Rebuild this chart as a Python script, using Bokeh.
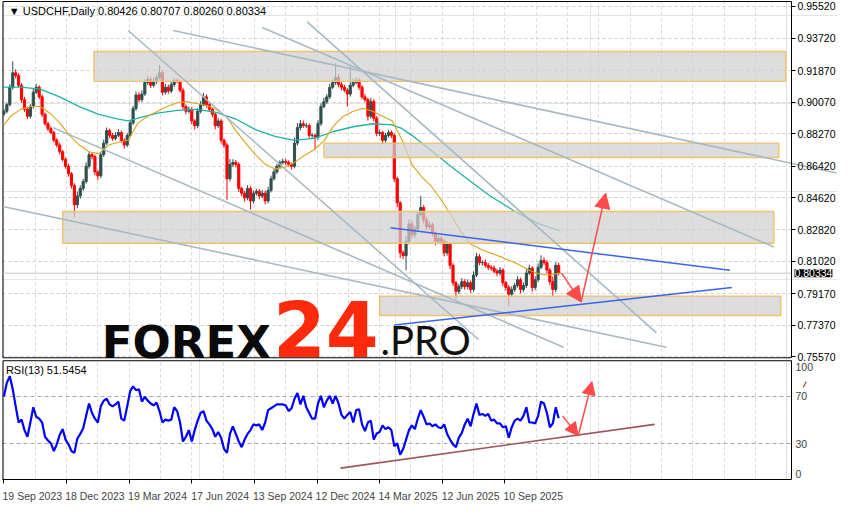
from bokeh.plotting import figure
from bokeh.models import (Range1d, FixedTicker, PrintfTickFormatter, LinearAxis, Grid,
                          Label, Arrow, NormalHead)
from bokeh.embed import file_html
from bokeh.resources import INLINE

# ---------------- data ----------------
symbol_header = "\u25bc USDCHF,Daily  0.80426 0.80707 0.80260 0.80334"
rsi_header = "RSI(13) 51.5454"
last_price = 0.80334
last_price_text = "0.80334"

first_open = 0.8940
closes = [
    0.8955, 0.8993, 0.9092, 0.9174, 0.9158, 0.9103, 0.9021, 0.8966, 0.8927, 0.8982,
    0.9064, 0.9092, 0.9037, 0.8938, 0.8884, 0.8856, 0.8834, 0.8790, 0.8763, 0.8725,
    0.8681, 0.8642, 0.8599, 0.8533, 0.8423, 0.8473, 0.8516, 0.8555, 0.8642, 0.8708,
    0.8697, 0.8610, 0.8588, 0.8708, 0.8774, 0.8845, 0.8818, 0.8801, 0.8818, 0.8834,
    0.8790, 0.8763, 0.8818, 0.8889, 0.8971, 0.9048, 0.9021, 0.9053, 0.9119, 0.9136,
    0.9103, 0.9125, 0.9147, 0.9174, 0.9064, 0.9092, 0.9070, 0.9108, 0.9130, 0.9125,
    0.9075, 0.8982, 0.8955, 0.8966, 0.8900, 0.8873, 0.8955, 0.8993, 0.9037, 0.8993,
    0.8966, 0.8938, 0.8873, 0.8900, 0.8790, 0.8763, 0.8571, 0.8653, 0.8664, 0.8653,
    0.8516, 0.8489, 0.8462, 0.8516, 0.8445, 0.8489, 0.8500, 0.8473, 0.8489, 0.8445,
    0.8505, 0.8571, 0.8610, 0.8642, 0.8664, 0.8670, 0.8664, 0.8653, 0.8642, 0.8774,
    0.8862, 0.8884, 0.8873, 0.8873, 0.8818, 0.8818, 0.8807, 0.8884, 0.8982, 0.9010,
    0.9037, 0.9092, 0.9119, 0.9147, 0.9108, 0.9092, 0.9075, 0.9053, 0.9103, 0.9119,
    0.9130, 0.9092, 0.9037, 0.9021, 0.8927, 0.9010, 0.8916, 0.8829, 0.8834, 0.8790,
    0.8818, 0.8834, 0.8818, 0.8571, 0.8434, 0.8149, 0.8133, 0.8215, 0.8314, 0.8253,
    0.8286, 0.8368, 0.8407, 0.8336, 0.8297, 0.8308, 0.8259, 0.8215, 0.8231, 0.8215,
    0.8149, 0.8199, 0.8078, 0.7979, 0.7930, 0.7957, 0.7985, 0.7957, 0.7979, 0.7941,
    0.8023, 0.8127, 0.8094, 0.8094, 0.8078, 0.8067, 0.8062, 0.8045, 0.8034, 0.8051,
    0.7979, 0.7952, 0.7914, 0.7941, 0.7963, 0.7996, 0.7941, 0.7963, 0.8034, 0.8062,
    0.7952, 0.7996, 0.8067, 0.8105, 0.8094, 0.8051, 0.7985, 0.7941, 0.8078, 0.8033,
]
# upper / lower shadow lengths in pips
wick_up = [
    15, 12, 18, 66, 20, 14, 12, 16, 10, 14,
    18, 20, 12, 14, 10, 12, 15, 10, 12, 14,
    10, 12, 14, 10, 12, 25, 18, 15, 22, 18,
    14, 12, 10, 16, 20, 18, 12, 14, 18, 20,
    12, 10, 14, 18, 15, 20, 16, 22, 18, 20,
    14, 22, 18, 44, 16, 20, 14, 18, 16, 12,
    10, 14, 12, 16, 14, 10, 18, 20, 22, 14,
    12, 14, 10, 16, 12, 10, 14, 30, 18, 14,
    12, 10, 14, 18, 12, 16, 14, 12, 18, 14,
    20, 18, 16, 14, 12, 16, 14, 12, 10, 30,
    25, 22, 18, 16, 12, 14, 10, 20, 18, 22,
    16, 20, 18, 82, 20, 16, 14, 12, 115, 22,
    18, 14, 12, 16, 10, 22, 14, 12, 16, 10,
    14, 16, 12, 10, 12, 10, 14, 30, 25, 18,
    16, 20, 66, 14, 18, 20, 14, 12, 16, 14,
    12, 18, 10, 12, 10, 16, 20, 14, 18, 12,
    20, 22, 16, 14, 18, 14, 12, 16, 14, 18,
    12, 10, 14, 18, 16, 20, 12, 18, 25, 20,
    12, 20, 22, 30, 18, 14, 12, 30, 18, 15,
]
wick_dn = [
    14, 12, 10, 14, 16, 12, 18, 14, 16, 12,
    12, 10, 14, 16, 12, 14, 10, 12, 14, 16,
    12, 14, 16, 18, 71, 20, 16, 14, 12, 14,
    16, 20, 25, 14, 12, 10, 16, 14, 12, 10,
    14, 20, 12, 10, 12, 14, 16, 12, 10, 14,
    16, 12, 14, 10, 18, 14, 16, 12, 14, 10,
    14, 18, 16, 12, 20, 22, 14, 12, 10, 16,
    14, 16, 20, 12, 18, 16, 120, 14, 16, 18,
    20, 18, 22, 14, 49, 16, 14, 18, 12, 20,
    14, 12, 10, 12, 14, 12, 16, 14, 18, 12,
    14, 16, 12, 14, 18, 20, 71, 14, 12, 10,
    14, 12, 10, 14, 16, 18, 12, 71, 14, 12,
    10, 16, 14, 12, 25, 14, 18, 16, 14, 20,
    14, 12, 16, 20, 25, 30, 20, 83, 18, 22,
    16, 14, 12, 20, 18, 14, 16, 22, 14, 18,
    20, 16, 22, 18, 44, 16, 14, 18, 16, 20,
    14, 12, 16, 18, 14, 16, 14, 12, 18, 14,
    20, 18, 72, 16, 14, 12, 22, 16, 14, 12,
    24, 16, 14, 12, 14, 18, 20, 38, 16, 12,
]
rsi = [
    70, 81.6, 87, 76, 61.6, 48, 50.4, 41.6, 36, 48,
    60.8, 52.8, 51.2, 48, 36, 32.8, 30.4, 24, 29.6, 37.6,
    42.4, 33.6, 29.6, 24, 22.4, 34.4, 38.4, 43.2, 53.6, 64,
    56, 51.2, 48, 61.6, 66.4, 68, 63.2, 61.6, 63.2, 65.6,
    51.2, 49.6, 61.6, 74.4, 78.4, 75.2, 76, 65.6, 69.6, 66.4,
    64, 62.4, 64.8, 57.6, 48, 50.4, 49.6, 50.4, 60.8, 57.6,
    48, 32, 36, 41.6, 32, 41.6, 49.6, 56, 57.6, 49.6,
    46.4, 42.4, 36, 40, 35.2, 25.6, 22.4, 38.4, 44.8, 38.4,
    32, 27.2, 33.6, 38.4, 41.6, 46.4, 45.6, 46.4, 41.6, 48,
    58.4, 60, 61.6, 63.2, 63.2, 63.2, 62.4, 57.6, 60, 68,
    72.8, 63.2, 70.4, 60.8, 56, 51.2, 51.2, 64, 70.4, 60.8,
    66.4, 70.4, 64, 70.4, 64, 54.4, 51.2, 54.4, 56.8, 48,
    58.4, 59.2, 46.4, 40.8, 48, 49.6, 33.6, 38.8, 40, 45.6,
    42.4, 44, 41.6, 28, 30.4, 20.8, 25.6, 33.6, 41.6, 45.6,
    42.4, 51.2, 58.4, 52.8, 46.4, 47.2, 44.8, 46.4, 44, 43.2,
    46.4, 38.4, 33.6, 29.6, 27.2, 35.2, 39.2, 46.4, 51.2, 44.8,
    55.2, 64, 54.4, 55.2, 53.6, 55.2, 49.6, 50.4, 47.2, 47.2,
    44, 44.8, 35.2, 44, 49.6, 51.2, 49.6, 53.6, 60.8, 48,
    48, 47.2, 53.6, 65.6, 64, 56, 44, 47.2, 60.8, 51.5,
]

ma_fast_idx = [0, 7, 17, 27, 37, 47, 57, 67, 77, 87, 97, 107, 117, 127, 137, 147, 157,
               167, 177, 187, 197, 207, 217, 227, 237, 247, 257, 267, 277, 287, 297,
               307, 317, 327, 337, 347, 357, 367, 377, 387, 397, 407, 417, 427, 437,
               447, 457, 467, 477, 487, 497, 510, 524, 537, 547, 557, 569]
ma_fast = [0.8878, 0.8927, 0.8966, 0.8982, 0.8982, 0.8944, 0.8889, 0.8818, 0.8763,
           0.8725, 0.8714, 0.8763, 0.8779, 0.8790, 0.8889, 0.8927, 0.8955, 0.8982,
           0.9004, 0.9010, 0.8999, 0.8988, 0.8966, 0.8927, 0.8845, 0.8774, 0.8708,
           0.8653, 0.8626, 0.8637, 0.8664, 0.8703, 0.8736, 0.8785, 0.8872, 0.8927,
           0.8955, 0.8971, 0.8955, 0.8927, 0.8900, 0.8790, 0.8653, 0.8582, 0.8527,
           0.8450, 0.8363, 0.8270, 0.8199, 0.8171, 0.8149, 0.8122, 0.8089, 0.8050,
           0.8029, 0.8023, 0.8034]
ma_slow_idx = [0, 17, 37, 57, 77, 97, 117, 127, 137, 157, 177, 197, 217, 237, 257, 277,
               297, 317, 337, 357, 377, 397, 407, 417, 427, 437, 454, 477, 497, 524, 547, 568]
ma_slow = [0.9092, 0.9092, 0.9081, 0.9037, 0.8982, 0.8938, 0.8911, 0.8900, 0.8916,
           0.8944, 0.8960, 0.8966, 0.8949, 0.8911, 0.8851, 0.8812, 0.8790, 0.8801,
           0.8840, 0.8867, 0.8884, 0.8878, 0.8856, 0.8818, 0.8774, 0.8730, 0.8653,
           0.8555, 0.8473, 0.8379, 0.8314, 0.8275]

date_idx = [0, 64, 128, 192, 256, 320, 384, 448, 512]
date_labels = ["19 Sep 2023", "18 Dec 2023", "19 Mar 2024", "17 Jun 2024", "13 Sep 2024",
               "12 Dec 2024", "14 Mar 2025", "12 Jun 2025", "10 Sep 2025"]
price_ticks = [0.9552, 0.9372, 0.9187, 0.9007, 0.8827, 0.8642, 0.8462, 0.8282,
               0.8102, 0.7917, 0.7737, 0.7557]
rsi_levels = [30, 70]
rsi_tick_pos = [5, 30, 70, 95]
rsi_tick_txt = ["0", "30", "70", "100"]

# support / resistance zones
zone_left = [92, 327, 60, 384]
zone_right = [799, 792, 787, 794]
zone_top = [0.9295, 0.8774, 0.8385, 0.7903]
zone_bottom = [0.9125, 0.8692, 0.8204, 0.7793]

# grey trend lines (bar index, price)
gl_x0 = [127, 173, 264, 310, -1, 50]
gl_y0 = [0.9415, 0.9415, 0.9432, 0.9464, 0.8413, 0.8862]
gl_x1 = [485, 851, 787, 667, 677, 572]
gl_y1 = [0.7656, 0.8604, 0.8182, 0.7694, 0.7612, 0.7612]
# blue channel lines
bl_x0 = [395, 399]
bl_y0 = [0.8292, 0.7738]
bl_x1 = [742, 744]
bl_y1 = [0.8050, 0.7952]
# forecast arrows on price
pa_x = [570, 590, 615]
pa_y = [0.8034, 0.7870, 0.8489]
# RSI support line, arrows and small mark
rl_x = [344, 665]
rl_y = [9.6, 46.4]
ra_x = [571, 587, 601]
ra_y = [53.6, 36.8, 82.4]
rm_x = [817, 820]
rm_y = [77.6, 82.4]

# ---------------- derived ----------------
STEP = 3
idx = [STEP * k for k in range(len(closes))]
opens = [first_open] + closes[:-1]
tops = [max(o, c) for o, c in zip(opens, closes)]
bots = [min(o, c) for o, c in zip(opens, closes)]
highs = [t + u * 1e-4 for t, u in zip(tops, wick_up)]
lows = [b - d * 1e-4 for b, d in zip(bots, wick_dn)]
BULL, BEAR = "#2F4F4F", "#FF0000"
cols = [BULL if c >= o else BEAR for o, c in zip(opens, closes)]
vgrid = list(range(0, 806, 32))

FONT = "Liberation Sans"
W, FIG_H, BOT_AX = 838, 504, 20
FRAME_H = FIG_H - BOT_AX
X_LEFT, X_AXIS = -1, 805          # chart edge and price-scale position (bar index)
P_TOP, P_BOT = 0.9580, 0.7552
MAIN_PX, RSI_PX, TOP_PAD = 360, 120, 1
kp = MAIN_PX / (P_TOP - P_BOT)
y_end = P_TOP + TOP_PAD / kp
y_start = y_end - FRAME_H / kp
rsi_end = 100.0 * FRAME_H / RSI_PX

p = figure(width=W, height=FIG_H, x_range=Range1d(-2.5, 852), y_range=Range1d(y_start, y_end),
           output_backend="svg", toolbar_location=None, y_axis_location=None,
           x_axis_location=None, min_border_left=1, min_border_right=1,
           min_border_top=0, min_border_bottom=BOT_AX, outline_line_color=None,
           background_fill_color="white", border_fill_color="white")
p.extra_y_ranges = {"rsi": Range1d(0, rsi_end)}


def vgrid_add(lo, hi, rname):
    try:
        g = Grid(dimension=0, ticker=FixedTicker(ticks=vgrid), cross_bounds=(lo, hi),
                 y_range_name=rname, grid_line_color="#d6d6d6", grid_line_dash="3 3")
        p.add_layout(g)
    except Exception:
        p.segment(x0=vgrid, x1=vgrid, y0=[lo] * len(vgrid), y1=[hi] * len(vgrid),
                  y_range_name=rname, color="#d6d6d6", line_dash="3 3", line_width=1)


def hgrid_add(ticks, rname, color, dash):
    try:
        g = Grid(dimension=1, ticker=FixedTicker(ticks=ticks), cross_bounds=(X_LEFT, X_AXIS),
                 y_range_name=rname, grid_line_color=color, grid_line_dash=dash)
        p.add_layout(g)
    except Exception:
        p.segment(x0=[X_LEFT] * len(ticks), x1=[X_AXIS] * len(ticks), y0=ticks, y1=ticks,
                  y_range_name=rname, color=color, line_dash=dash, line_width=1)


vgrid_add(P_BOT, P_TOP, "default")
vgrid_add(0, 100, "rsi")
hgrid_add(price_ticks, "default", "#cfcfcf", "3 3")
hgrid_add(rsi_levels, "rsi", "#a8a8a8", "4 3")

# ---- price scale (right) ----
yax = LinearAxis(ticker=FixedTicker(ticks=price_ticks),
                 formatter=PrintfTickFormatter(format="%.5f"),
                 fixed_location=X_AXIS, bounds=(P_BOT, P_TOP),
                 major_tick_out=4, major_tick_in=0, minor_tick_line_color=None,
                 major_label_standoff=2, major_label_text_font=FONT,
                 major_label_text_font_size="10.5px", major_label_text_color="black",
                 axis_line_color="black")
p.add_layout(yax, "right")
ryax = LinearAxis(y_range_name="rsi", ticker=FixedTicker(ticks=rsi_tick_pos),
                  major_label_overrides=dict(zip(rsi_tick_pos, rsi_tick_txt)),
                  fixed_location=X_AXIS, bounds=(0, 100),
                  major_tick_out=0, major_tick_in=0, minor_tick_line_color=None,
                  major_label_standoff=4, major_label_text_font=FONT,
                  major_label_text_font_size="10.5px", axis_line_color="black")
p.add_layout(ryax, "right")

# ---- date scale (bottom) ----
ax_t = LinearAxis(ticker=FixedTicker(ticks=date_idx), bounds=(X_LEFT, X_AXIS),
                  major_label_text_color=None, major_label_text_font_size="1px",
                  major_tick_out=4, major_tick_in=0, minor_tick_line_color=None,
                  major_label_standoff=0, axis_line_color="black")
LOFF = 29
ax_l = LinearAxis(ticker=FixedTicker(ticks=[d + LOFF for d in date_idx]),
                  major_label_overrides={d + LOFF: s for d, s in zip(date_idx, date_labels)},
                  axis_line_color=None, major_tick_line_color=None, minor_tick_line_color=None,
                  major_label_standoff=0, major_label_text_font=FONT,
                  major_label_text_font_size="10.5px")
p.add_layout(ax_t, "below")
p.add_layout(ax_l, "below")

# ---- panel borders ----
p.segment(x0=[X_LEFT, X_LEFT, X_LEFT], y0=[P_BOT, P_TOP, P_BOT],
          x1=[X_LEFT, X_AXIS, X_AXIS], y1=[P_TOP, P_TOP, P_BOT], color="black", line_width=1)
p.segment(x0=[X_LEFT, X_LEFT], y0=[0, 100], x1=[X_LEFT, X_AXIS], y1=[100, 100],
          y_range_name="rsi", color="black", line_width=1)

# ---- price panel ----
p.segment(x0=X_LEFT, y0=last_price, x1=X_AXIS, y1=last_price, color="#c8c8c8", line_width=1)
p.segment(x0=idx, y0=lows, x1=idx, y1=highs, color=cols, line_width=1)
p.vbar(x=idx, top=tops, bottom=bots, width=2.2, fill_color=cols, line_color=cols, line_width=1)
p.line(ma_slow_idx, ma_slow, color="#20B2AA", line_width=1.3)
p.line(ma_fast_idx, ma_fast, color="#DAA520", line_width=1.1)
p.quad(left=zone_left, right=zone_right, top=zone_top, bottom=zone_bottom,
       fill_color="#d0d0d0", fill_alpha=0.72, line_color="#f0c16e", line_width=1.4)
p.segment(x0=gl_x0, y0=gl_y0, x1=gl_x1, y1=gl_y1, color="#a7b9c5", line_width=1.6)
p.segment(x0=bl_x0, y0=bl_y0, x1=bl_x1, y1=bl_y1, color="#3c64e6", line_width=1.5)
for i in range(len(pa_x) - 1):
    p.add_layout(Arrow(end=NormalHead(size=15, fill_color="#ff4a4a", line_color="#ff4a4a"),
                       x_start=pa_x[i], y_start=pa_y[i], x_end=pa_x[i + 1], y_end=pa_y[i + 1],
                       line_color="#ff4a4a", line_width=1.5))

p.add_layout(Label(x=5, y=0.9527, text=symbol_header, text_font=FONT, text_font_size="11px",
                   text_color="black", text_baseline="middle"))
p.add_layout(Label(x=100, y=0.7637, text="FOREX", text_font="DejaVu Sans",
                   text_font_style="bold", text_font_size="45px", text_color="#0a0a0a",
                   text_baseline="alphabetic"))
p.add_layout(Label(x=275, y=0.7718, text="24", text_font="DejaVu Sans",
                   text_font_style="bold", text_font_size="76px", text_color="#ff2a0c",
                   text_baseline="alphabetic"))
p.add_layout(Label(x=385, y=0.7655, text=".PRO", text_font="Lato",
                   text_font_size="40px", text_color="#111111", text_baseline="alphabetic"))
p.add_layout(Label(x=808, y=last_price, text=last_price_text, text_font=FONT,
                   text_font_size="10.5px", text_color="white", background_fill_color="black",
                   text_baseline="middle"))

# ---- RSI panel ----
p.line(idx, rsi, y_range_name="rsi", color="#0000ff", line_width=2.2)
p.line(rl_x, rl_y, y_range_name="rsi", color="#9e5656", line_width=1.6)
p.line(rm_x, rm_y, y_range_name="rsi", color="#b55a5a", line_width=1.3)
for i in range(len(ra_x) - 1):
    p.add_layout(Arrow(end=NormalHead(size=13, fill_color="#ff4a4a", line_color="#ff4a4a"),
                       x_start=ra_x[i], y_start=ra_y[i], x_end=ra_x[i + 1], y_end=ra_y[i + 1],
                       y_range_name="rsi", line_color="#ff4a4a", line_width=1.5))
p.add_layout(Label(x=2, y=92.5, y_range_name="rsi", text=rsi_header, text_font=FONT,
                   text_font_size="11px", text_color="black", text_baseline="middle"))

open("out.html", "w").write(file_html(p, INLINE))
